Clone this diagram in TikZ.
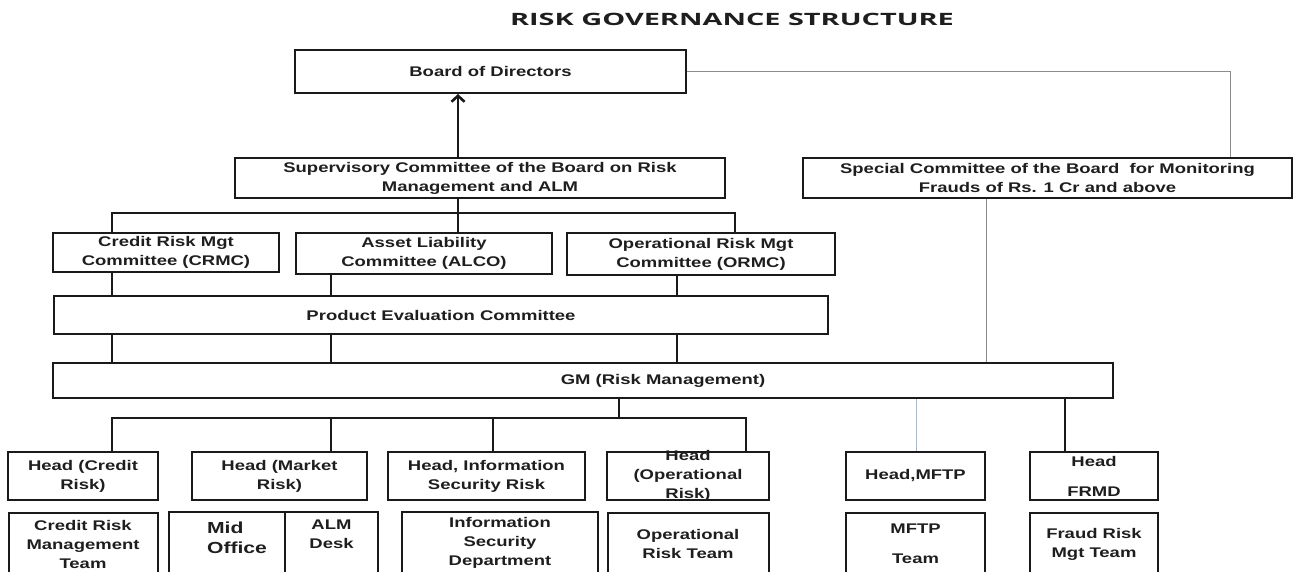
\documentclass[tikz,border=0pt]{standalone}
\usepackage{fontspec}
\newfontfamily\boxfamily{Liberation Sans}[FakeStretch=1.32]
\newfontfamily\titlefamily{Open Sans}[FakeStretch=1.7]
\newcommand\midfont{\boxfamily\bfseries\fontsize{16}{20}\selectfont}
\usetikzlibrary{arrows.meta,positioning}
\definecolor{frame}{HTML}{1A1A1A}
\definecolor{ink}{HTML}{1E1E1E}
\definecolor{greyline}{HTML}{8C8C8C}
\definecolor{mftpblue}{HTML}{9DB9DC}

\begin{document}
\begin{tikzpicture}[x=1pt, y=-1pt, >={Straight Barb[length=6pt, width=13pt]},
  box/.style={draw=frame, line width=2pt, align=center, inner sep=1pt, text=ink,
    font=\boxfamily\bfseries\fontsize{14}{19}\selectfont},
  team/.style={minimum height=62pt},
  lbl/.style={align=center, inner sep=0pt, text=ink, font=\boxfamily\bfseries\fontsize{14}{19}\selectfont},
  link/.style={draw=frame, line width=2.6pt},
  faint/.style={draw=greyline, line width=0.9pt}]
\useasboundingbox (0,0) rectangle (1299,571);
\node[font=\titlefamily\bfseries\fontsize{17}{20}\selectfont, text=ink] (title) at (732,19) {RISK GOVERNANCE STRUCTURE};

% x positions of the vertical links
\coordinate (xa) at (112,0);
\coordinate (xb) at (331,0);
\coordinate (xc) at (458,0);
\coordinate (xd) at (677,0);
\coordinate (xe) at (735,0);
\coordinate (xf) at (619,0);
\coordinate (xg) at (493,0);
\coordinate (xh) at (746,0);
\coordinate (xi) at (916,0);
\coordinate (xj) at (1065,0);
\coordinate (xk) at (986,0);
\coordinate (xl) at (1230,0);
\coordinate (bus1) at (0,213);
\coordinate (bus2) at (0,418);

% board and committees
\node[box, minimum width=391pt, minimum height=43pt] (board) at (490.5,71.5) {Board of Directors};
\node[box, minimum width=490pt, minimum height=40pt] (super) at (480,178) {Supervisory Committee of the Board on Risk\\Management and ALM};
\node[box, minimum width=489pt, minimum height=40pt] (special) at (1047.5,178) {Special Committee of the Board \ for Monitoring\\Frauds of Rs. 1 Cr and above};
\node[box, minimum width=226pt, minimum height=39pt] (crmc) at (166,252.5) {Credit Risk Mgt\\Committee (CRMC)};
\node[box, minimum width=256pt, minimum height=41pt] (alco) at (424,253.5) {Asset Liability\\Committee (ALCO)};
\node[box, minimum width=268pt, minimum height=42pt] (ormc) at (701,254) {Operational Risk Mgt\\Committee (ORMC)};
\node[box, minimum width=774pt, minimum height=38pt] (pec) at (441,315) {Product Evaluation Committee};
\node[box, minimum width=1060pt, minimum height=35pt, label={[lbl, xshift=80pt]center:GM (Risk Management)}] (gm) at (583,380.5) {};

% heads
\node[box, minimum width=150pt, minimum height=48pt] (hcr) at (83,476) {Head (Credit\\Risk)};
\node[box, minimum width=175pt, minimum height=48pt] (hmk) at (279.5,476) {Head (Market\\Risk)};
\node[box, minimum width=197pt, minimum height=48pt] (hinf) at (486.5,476) {Head, Information\\Security Risk};
\node[box, minimum width=162pt, minimum height=48pt, label={[lbl]center:Head\\(Operational\\Risk)}] (hop) at (688,476) {};
\node[box, minimum width=139pt, minimum height=48pt] (hmf) at (915.5,476) {Head,MFTP};
\node[box, minimum width=128pt, minimum height=48pt] (hfr) at (1094,476) {Head\\[11pt]FRMD};

% teams
\node[box, team, minimum width=149pt, below=11pt of hcr] (tcr) {Credit Risk\\Management\\Team};
\node[box, team, minimum width=116pt, label={[lbl, align=left, font=\midfont, xshift=10pt, yshift=5pt]center:Mid\\Office}] (mid) at (227,543) {};
\node[box, team, minimum width=93pt, label={[lbl, yshift=9pt]center:ALM\\Desk}] (alm) at (331.5,543) {};
\node[box, team, minimum width=196pt] (tinf) at (500,543) {Information\\Security\\Department};
\node[box, team, minimum width=161pt, below=11pt of hop] (tor) {Operational\\Risk Team};
\node[box, team, minimum width=139pt, below=11pt of hmf] (tmf) {MFTP\\[11pt]Team};
\node[box, team, minimum width=128pt, below=11pt of hfr] (tfr) {Fraud Risk\\Mgt Team};

% links
\draw[link, ->] (super.north -| xc) -- (board.south -| xc);
\draw[faint] (board.east) -| (special.north -| xl);
\draw[faint] (special.south -| xk) -- (gm.north -| xk);
\draw[link] (super.south -| xc) -- (alco.north -| xc);
\draw[link] (crmc.north -| xa) |- (bus1 -| xe) -- (ormc.north -| xe);
\foreach \n/\x in {crmc/xa, alco/xb, ormc/xd}
  \draw[link] (\n.south -| \x) -- (pec.north -| \x);
\foreach \x in {xa, xb, xd}
  \draw[link] (pec.south -| \x) -- (gm.north -| \x);
\draw[link] (gm.south -| xf) -- (bus2 -| xf);
\draw[link] (hcr.north -| xa) |- (bus2 -| xh) -- (hop.north -| xh);
\foreach \n/\x in {hmk/xb, hinf/xg}
  \draw[link] (bus2 -| \x) -- (\n.north -| \x);
\draw[mftpblue, line width=1pt] (gm.south -| xi) -- (hmf.north -| xi);
\draw[link] (gm.south -| xj) -- (hfr.north -| xj);
\end{tikzpicture}
\end{document}
